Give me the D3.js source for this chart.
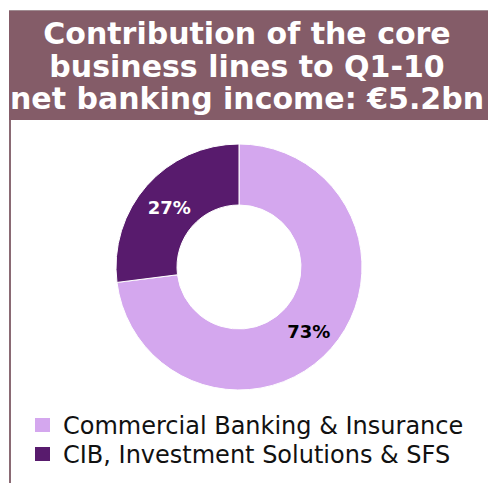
<!DOCTYPE html>
<html>
<head>
<meta charset="utf-8">
<script src="https://cdn.jsdelivr.net/npm/d3@7"></script>
<style>
  body { margin: 0; background: #fff; }
  svg { display: block; }
</style>
</head>
<body>
<svg width="488" height="483" viewBox="0 0 488 483"></svg>
<script>
const titleLines = ["Contribution of the core", "business lines to Q1-10", "net banking income: \u20ac5.2bn"];
const categories = ["Commercial Banking & Insurance", "CIB, Investment Solutions & SFS"];
const values = [73, 27];
const colors = ["#d4a7ee", "#581b6d"];
const labelColors = ["#000000", "#ffffff"];

const svg = d3.select("svg");
const font = "Verdana, 'DejaVu Sans', sans-serif";

// title box and left rule
svg.append("rect")
    .attr("x", 9).attr("y", 10).attr("width", 479).attr("height", 110)
    .attr("fill", "#845c68");
svg.append("line")
    .attr("x1", 9).attr("x2", 488).attr("y1", 10.5).attr("y2", 10.5)
    .attr("stroke", "#a08c92").attr("stroke-width", 1);
svg.append("line")
    .attr("x1", 10).attr("x2", 10).attr("y1", 120).attr("y2", 483)
    .attr("stroke", "#8a6a74").attr("stroke-width", 2);

svg.append("g").selectAll("text")
    .data(titleLines)
    .join("text")
    .attr("x", 247)
    .attr("y", (d, i) => 44 + i * 32.5)
    .attr("text-anchor", "middle")
    .attr("fill", "#fff")
    .attr("font-family", font)
    .attr("font-weight", "bold")
    .attr("font-size", 30)
    .text(d => d);

// donut
const cx = 239, cy = 267;
const pie = d3.pie().sort(null)(values);
const arc = d3.arc().innerRadius(62).outerRadius(123);
const labelArc = d3.arc().innerRadius(93).outerRadius(93);

const g = svg.append("g").attr("transform", `translate(${cx},${cy})`);
g.selectAll("path")
    .data(pie)
    .join("path")
    .attr("d", arc)
    .attr("fill", (d, i) => colors[i])
    .attr("stroke", "#fff")
    .attr("stroke-width", 1);

g.selectAll("text")
    .data(pie)
    .join("text")
    .attr("transform", d => `translate(${labelArc.centroid(d)})`)
    .attr("text-anchor", "middle")
    .attr("dy", "0.5em")
    .attr("fill", (d, i) => labelColors[i])
    .attr("font-family", font)
    .attr("font-weight", "bold")
    .attr("font-size", 18)
    .text(d => d.data + "%");

// legend
const legend = svg.append("g").attr("transform", "translate(35,418)");
const row = legend.selectAll("g")
    .data(categories)
    .join("g")
    .attr("transform", (d, i) => `translate(0,${i * 29})`);
row.append("rect")
    .attr("width", 15).attr("height", 14)
    .attr("fill", (d, i) => colors[i]);
row.append("text")
    .attr("x", 28).attr("y", 16)
    .attr("fill", "#111")
    .attr("font-family", font)
    .attr("font-size", 24)
    .text(d => d);
</script>
</body>
</html>
